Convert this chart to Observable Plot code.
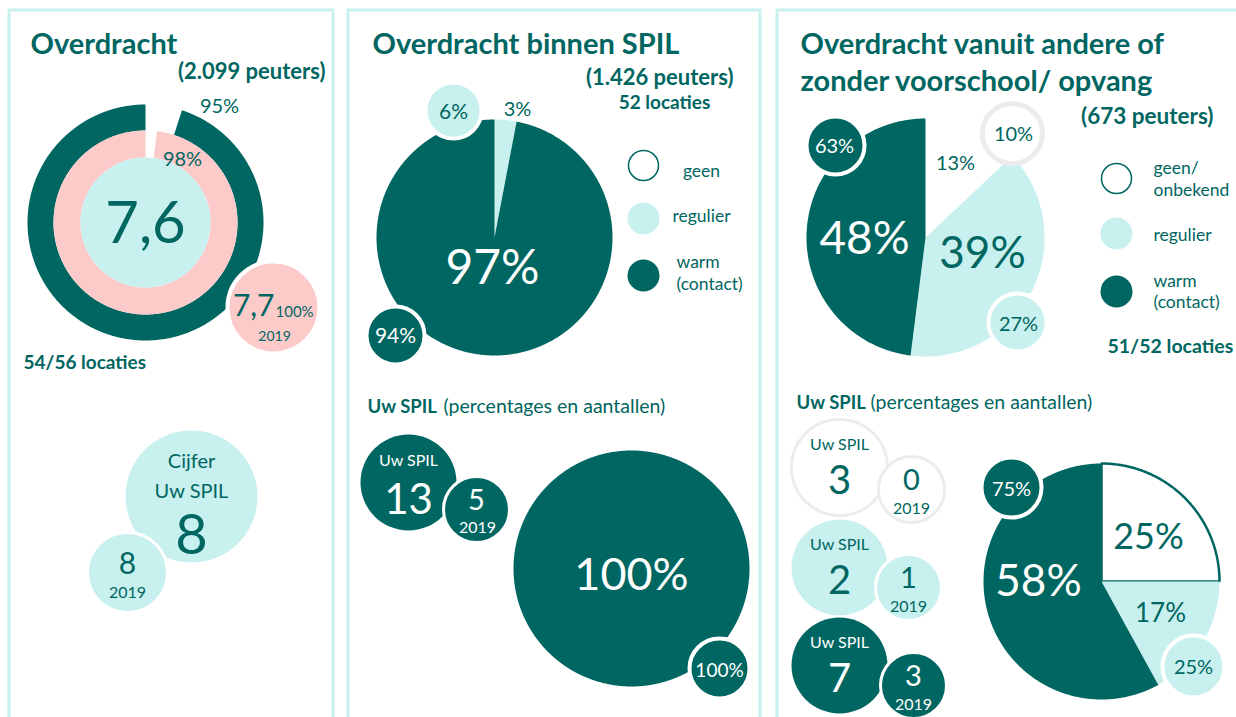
<!DOCTYPE html>
<html><head><meta charset="utf-8">
<script src="https://cdn.jsdelivr.net/npm/d3@7"></script>
<script src="https://cdn.jsdelivr.net/npm/@observablehq/plot@0.6"></script>
<style>body{margin:0;background:#fff} #chart svg{display:block}</style>
</head><body><div id="chart"></div>
<script>
// ---------------- data ----------------
const categories = ["geen", "regulier", "warm"];
const titles = ["Overdracht", "Overdracht binnen SPIL", "Overdracht vanuit andere of", "zonder voorschool/ opvang"];

const overdrachtScore = 7.6;
const overdrachtScore2019 = 7.7;
const overdrachtRings = [95, 98];          // outer ring, inner ring
const overdracht2019Pct = 100;
const overdrachtPeuters = "2.099";
const overdrachtLocaties = "54/56";
const uwSpilScore = 8;
const uwSpilScore2019 = 8;

const binnenPeuters = "1.426";
const binnenLocaties = "52";
const binnenPct = [0, 3, 97];
const binnenPct2019 = [null, 6, 94];
const binnenUwCount = 13;
const binnenUwCount2019 = 5;
const binnenUwPct = [0, 0, 100];
const binnenUwPct2019 = [null, null, 100];

const vanuitPeuters = "673";
const vanuitLocaties = "51/52";
const vanuitPct = [13, 39, 48];
const vanuitPct2019 = [10, 27, 63];
const vanuitUwCount = [3, 2, 7];
const vanuitUwCount2019 = [0, 1, 3];
const vanuitUwPct = [25, 17, 58];
const vanuitUwPct2019 = [null, 25, 75];

// ---------------- styling ----------------
const DARK = "#006661", CYAN = "#c7f0ef", PINK = "#fccac9", TEAL = "#006661", GRAY = "#ececec", BORDER = "#c7f0ef";
const catFill = ["white", CYAN, DARK];
const catText = [TEAL, TEAL, "white"];
const W = 1236, H = 717;
const marks = [];
const pct = v => `${v}%`;
const dec = v => String(v).replace(".", ",");

function arcPoints(cx, cy, r0, r1, a0, a1) {
  const pts = [];
  const n = Math.max(2, Math.ceil((a1 - a0) / (Math.PI / 360)));
  for (let i = 0; i <= n; i++) { const a = a0 + (a1 - a0) * i / n; pts.push({x: cx + r1 * Math.sin(a), y: cy - r1 * Math.cos(a)}); }
  if (r0 > 0) for (let i = n; i >= 0; i--) { const a = a0 + (a1 - a0) * i / n; pts.push({x: cx + r0 * Math.sin(a), y: cy - r0 * Math.cos(a)}); }
  else if (a1 - a0 < 2 * Math.PI - 1e-6) pts.push({x: cx, y: cy});
  return pts;
}
function slice(pts, fill, stroke = "none", sw = 0) {
  marks.push(Plot.line(pts, {x: "x", y: "y", curve: "linear-closed", fill, stroke, strokeWidth: sw, strokeLinejoin: "miter"}));
}
function pie(values, cx, cy, r, fills, strokes = [], sw = 0) {
  const arcs = d3.pie().sort(null)(values);
  arcs.forEach((a, i) => {
    if (a.endAngle > a.startAngle) slice(arcPoints(cx, cy, 0, r, a.startAngle, a.endAngle), fills[i], strokes[i] || "none", strokes[i] ? sw : 0);
  });
}
function ring(value, cx, cy, r0, r1, fill) {
  const a0 = (1 - value / 100) * 2 * Math.PI;
  slice(arcPoints(cx, cy, r0, r1, a0, 2 * Math.PI), fill);
}
function bubble(cx, cy, r, fill, stroke = "white", sw = 4) {
  marks.push(Plot.dot([{x: cx, y: cy, r}], {x: "x", y: "y", r: "r", fill, stroke, strokeWidth: sw}));
}
function label(x, y, t, size, {weight = "normal", fill = TEAL, anchor = "middle"} = {}) {
  marks.push(Plot.text([{x, y, t}], {x: "x", y: "y", text: "t", fontSize: size, fontWeight: weight, fill, textAnchor: anchor, lineAnchor: "bottom"}));
}

// ---------------- panel frames ----------------
[[9, 333], [348, 760], [777, 1250]].forEach(([x1, x2]) =>
  marks.push(Plot.rect([{x1, x2, y1: 10, y2: 740}], {x1: "x1", x2: "x2", y1: "y1", y2: "y2", fill: "none", stroke: BORDER, strokeWidth: 3})));

// ---------------- panel 1 ----------------
label(30, 53, titles[0], 29, {weight: "bold", anchor: "start"});
label(325, 78, `(${overdrachtPeuters} peuters)`, 22, {weight: "bold", anchor: "end"});
ring(overdrachtRings[0], 145, 222, 92, 118, DARK);
ring(overdrachtRings[1], 145, 222, 65, 92, PINK);
bubble(145, 222, 65, CYAN, "none", 0);
bubble(273, 307, 46, PINK, "white", 4);
label(219, 112, pct(overdrachtRings[0]), 20);
label(182, 165, pct(overdrachtRings[1]), 20);
label(145, 242, dec(overdrachtScore), 58);
label(274, 315, dec(overdrachtScore2019), 30, {anchor: "end"});
label(275, 316, pct(overdracht2019Pct), 15, {anchor: "start"});
label(274, 340, "2019", 14);
label(23, 368, `${overdrachtLocaties} locaties`, 19, {weight: "bold", anchor: "start"});

bubble(191, 496, 66, CYAN, "none", 0);
bubble(127, 572, 40, CYAN, "white", 3);
label(191, 467, "Cijfer", 20);
label(191, 497, "Uw SPIL", 20);
label(191, 553, String(uwSpilScore), 56);
label(127, 573, String(uwSpilScore2019), 30);
label(127, 597, "2019", 16);

// ---------------- panel 2 ----------------
label(372, 53, titles[1], 29, {weight: "bold", anchor: "start"});
label(733, 84, `(${binnenPeuters} peuters)`, 22, {weight: "bold", anchor: "end"});
label(664, 108, `${binnenLocaties} locaties`, 19, {weight: "bold"});
pie(binnenPct, 494, 237, 118, catFill);
bubble(453, 110, 28, catFill[1]);
bubble(395, 335, 29, catFill[2]);
label(492, 283, pct(binnenPct[2]), 48, {fill: catText[2]});
label(517, 115, pct(binnenPct[1]), 20);
label(453, 118, pct(binnenPct2019[1]), 21, {fill: catText[1]});
label(395, 342, pct(binnenPct2019[2]), 21, {fill: catText[2]});
// legend
bubble(643, 165, 15, "white", DARK, 1.5);
bubble(643, 218, 16, CYAN, "none", 0);
bubble(643, 275, 16, DARK, "none", 0);
label(701, 176, categories[0], 17.5);
label(701, 221, categories[1], 17.5);
label(676, 267, categories[2], 17.5, {anchor: "start"});
label(676, 289, "(contact)", 17.5, {anchor: "start"});

label(367, 412, "Uw SPIL", 18.5, {weight: "bold", anchor: "start"});
label(443, 412, "(percentages en aantallen)", 19.5, {anchor: "start"});
bubble(408, 482, 48, DARK, "none", 0);
bubble(476, 509, 33, DARK, "white", 3);
label(408, 465, "Uw SPIL", 16, {fill: "white"});
label(408, 513, String(binnenUwCount), 42, {fill: "white"});
label(476, 509, String(binnenUwCount2019), 29, {fill: "white"});
label(477, 532, "2019", 16, {fill: "white"});
pie(binnenUwPct, 631, 568, 118, catFill);
bubble(719, 668, 30, catFill[2]);
label(631, 589, pct(binnenUwPct[2]), 45, {fill: "white"});
label(719, 676, pct(binnenUwPct2019[2]), 19, {fill: "white"});

// ---------------- panel 3 ----------------
label(800, 53, titles[2], 29, {weight: "bold", anchor: "start"});
label(800, 90, titles[3], 29, {weight: "bold", anchor: "start"});
label(1213, 123, `(${vanuitPeuters} peuters)`, 22.5, {weight: "bold", anchor: "end"});
pie(vanuitPct, 925, 237, 119, catFill);
bubble(835, 145, 29, catFill[2]);
bubble(1012, 133, 30, "white", GRAY, 5);
bubble(1017, 322, 29, catFill[1]);
label(864, 253, pct(vanuitPct[2]), 46, {fill: catText[2]});
label(982, 267, pct(vanuitPct[1]), 44, {fill: catText[1]});
label(955, 169, pct(vanuitPct[0]), 20);
label(834, 152, pct(vanuitPct2019[2]), 20, {fill: catText[2]});
label(1013, 140, pct(vanuitPct2019[0]), 20, {fill: catText[0]});
label(1018, 330, pct(vanuitPct2019[1]), 20, {fill: catText[1]});
// legend
bubble(1116, 178, 15, "white", DARK, 1.5);
bubble(1116, 233, 16, CYAN, "none", 0);
bubble(1116, 291, 16, DARK, "none", 0);
label(1153, 173, "geen/", 17.5, {anchor: "start"});
label(1153, 195, "onbekend", 17.5, {anchor: "start"});
label(1153, 240, categories[1], 17.5, {anchor: "start"});
label(1153, 286, categories[2], 17.5, {anchor: "start"});
label(1153, 307, "(contact)", 17.5, {anchor: "start"});
label(1107, 352, `${vanuitLocaties} locaties`, 19.5, {weight: "bold", anchor: "start"});

label(796, 408, "Uw SPIL", 18.5, {weight: "bold", anchor: "start"});
label(870, 408, "(percentages en aantallen)", 19.5, {anchor: "start"});
const uwY = [467, 567, 665], uwY2 = [489, 587, 685], uwX2 = [911, 908, 913];
vanuitUwCount.forEach((c, i) => {
  const f = catFill[i], tf = catText[i];
  const st = i === 0 ? GRAY : "none";
  bubble(839, uwY[i], 48, f, st, i === 0 ? 3 : 0);
  bubble(uwX2[i], uwY2[i], 33, f, i === 0 ? GRAY : "white", 3);
  label(839, uwY[i] - 18, "Uw SPIL", 16, {fill: tf});
  label(839, uwY[i] + 26, String(c), 40, {fill: tf});
  label(uwX2[i], uwY2[i], String(vanuitUwCount2019[i]), 29, {fill: tf});
  label(uwX2[i], uwY2[i] + 24, "2019", 16, {fill: tf});
});
pie(vanuitUwPct, 1101, 581, 118, catFill, [DARK, null, null], 2.5);
bubble(1011, 487, 30, catFill[2]);
bubble(1193, 666, 31, catFill[1]);
label(1148, 548, pct(vanuitUwPct[0]), 36, {fill: catText[0]});
label(1038, 595, pct(vanuitUwPct[2]), 44, {fill: catText[2]});
label(1160, 621, pct(vanuitUwPct[1]), 26, {fill: catText[1]});
label(1011, 495, pct(vanuitUwPct2019[2]), 20, {fill: catText[2]});
label(1193, 673, pct(vanuitUwPct2019[1]), 20, {fill: catText[1]});

const chart = Plot.plot({
  width: W, height: H,
  marginTop: 0, marginRight: 0, marginBottom: 0, marginLeft: 0,
  x: {domain: [0, W], range: [0, W], axis: null},
  y: {domain: [0, H], range: [0, H], axis: null},
  r: {type: "linear", domain: [0, 200], range: [0, 200]},
  style: {fontFamily: "Lato, 'Open Sans', sans-serif", background: "white", overflow: "hidden"},
  marks
});
document.getElementById("chart").appendChild(chart);
</script>
</body></html>
